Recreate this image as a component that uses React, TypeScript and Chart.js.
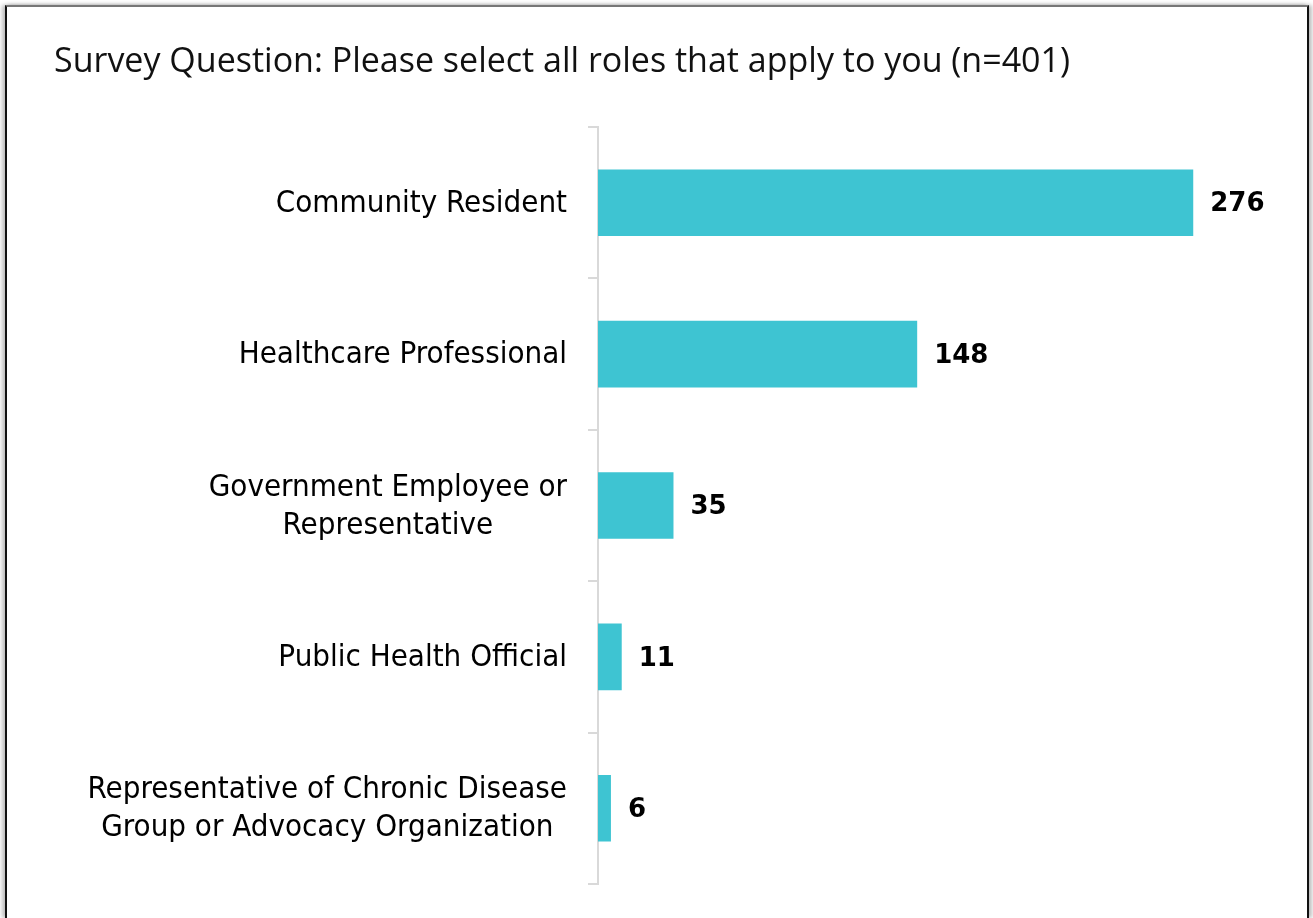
import React, { useEffect, useRef } from "react";
import { Chart, registerables } from "chart.js";

Chart.register(...registerables);

const titleText = "Survey Question: Please select all roles that apply to you (n=401)";
const categories: string[][] = [
  ["Community Resident"],
  ["Healthcare Professional"],
  ["Government Employee or", "Representative"],
  ["Public Health Official"],
  ["Representative of Chronic Disease", "Group or Advocacy Organization"],
];
const values: number[] = [276, 148, 35, 11, 6];
const axisMax = 300;

const BAR_COLOR = "#3EC4D2";
const LABEL_FONT = "31px 'DejaVu Sans Condensed', 'Liberation Sans', sans-serif";
const VALUE_FONT = "bold 26px 'DejaVu Sans', sans-serif";

const labelPlugin = {
  id: "customLabels",
  afterDatasetsDraw(chart: any) {
    const ctx = chart.ctx;
    const yScale = chart.scales.y;
    const meta = chart.getDatasetMeta(0);
    ctx.save();
    ctx.font = LABEL_FONT;
    ctx.fillStyle = "#000";
    ctx.textBaseline = "middle";
    const rightEdge = chart.chartArea.left - 31;
    const lineH = 38;
    categories.forEach((lines, i) => {
      const yc = yScale.getPixelForValue(i) + 1;
      const widths = lines.map((l) => ctx.measureText(l).width);
      const maxW = Math.max(...widths);
      const cx = rightEdge - maxW / 2;
      ctx.textAlign = "center";
      lines.forEach((l, j) => {
        const y = yc + (j - (lines.length - 1) / 2) * lineH;
        ctx.fillText(l, cx, y);
      });
    });
    ctx.font = VALUE_FONT;
    ctx.textAlign = "left";
    meta.data.forEach((bar: any, i: number) => {
      ctx.fillText(String(values[i]), bar.x + 17, bar.y + 2);
    });
    ctx.restore();
  },
};

export default function App() {
  const ref = useRef<HTMLCanvasElement | null>(null);
  useEffect(() => {
    if (!ref.current) return;
    const chart = new Chart(ref.current, {
      type: "bar",
      data: {
        labels: categories.map((c) => c.join(" ")),
        datasets: [
          {
            data: values,
            backgroundColor: BAR_COLOR,
            borderWidth: 0,
            barPercentage: 0.44,
            categoryPercentage: 1,
          },
        ],
      },
      options: {
        indexAxis: "y",
        animation: false,
        responsive: false,
        layout: { padding: { left: 54, right: 68, top: 0, bottom: 34 } },
        plugins: {
          legend: { display: false },
          tooltip: { enabled: false },
          title: {
            display: true,
            text: titleText,
            align: "start",
            color: "#111",
            font: { family: "'Open Sans', sans-serif", size: 34, weight: "normal" },
            padding: { top: 41.6, bottom: 44.6 },
          },
        },
        scales: {
          x: { display: false, min: 0, max: axisMax },
          y: {
            type: "category",
            grid: {
              drawOnChartArea: false,
              drawTicks: true,
              tickLength: 10,
              color: "#d9d9d9",
              lineWidth: 2,
              offset: true,
            },
            border: { display: true, color: "#d9d9d9", width: 2 },
            ticks: { display: false },
            afterFit: (scale: any) => {
              scale.width = 544;
            },
          },
        },
      },
      plugins: [labelPlugin],
    });
    return () => chart.destroy();
  }, []);

  return (
    <>
      <div
        style={{
          position: "absolute",
          left: 0,
          top: 0,
          width: 1313,
          height: 918,
          background: "#fff",
        }}
      />
      <div
        style={{
          position: "absolute",
          left: 5,
          top: 5,
          width: 1304,
          height: 913,
          boxSizing: "border-box",
          borderLeft: "2px solid #111",
          borderTop: "2px solid #777",
          borderRight: "2px solid #111",
          boxShadow: "-3px 0 4px rgba(0,0,0,0.25), 3px 0 4px rgba(0,0,0,0.25)",
          background: "#fff",
        }}
      />
      <canvas
        ref={ref}
        width={1313}
        height={918}
        style={{ position: "absolute", left: 0, top: 0, width: 1313, height: 918 }}
      />
    </>
  );
}
